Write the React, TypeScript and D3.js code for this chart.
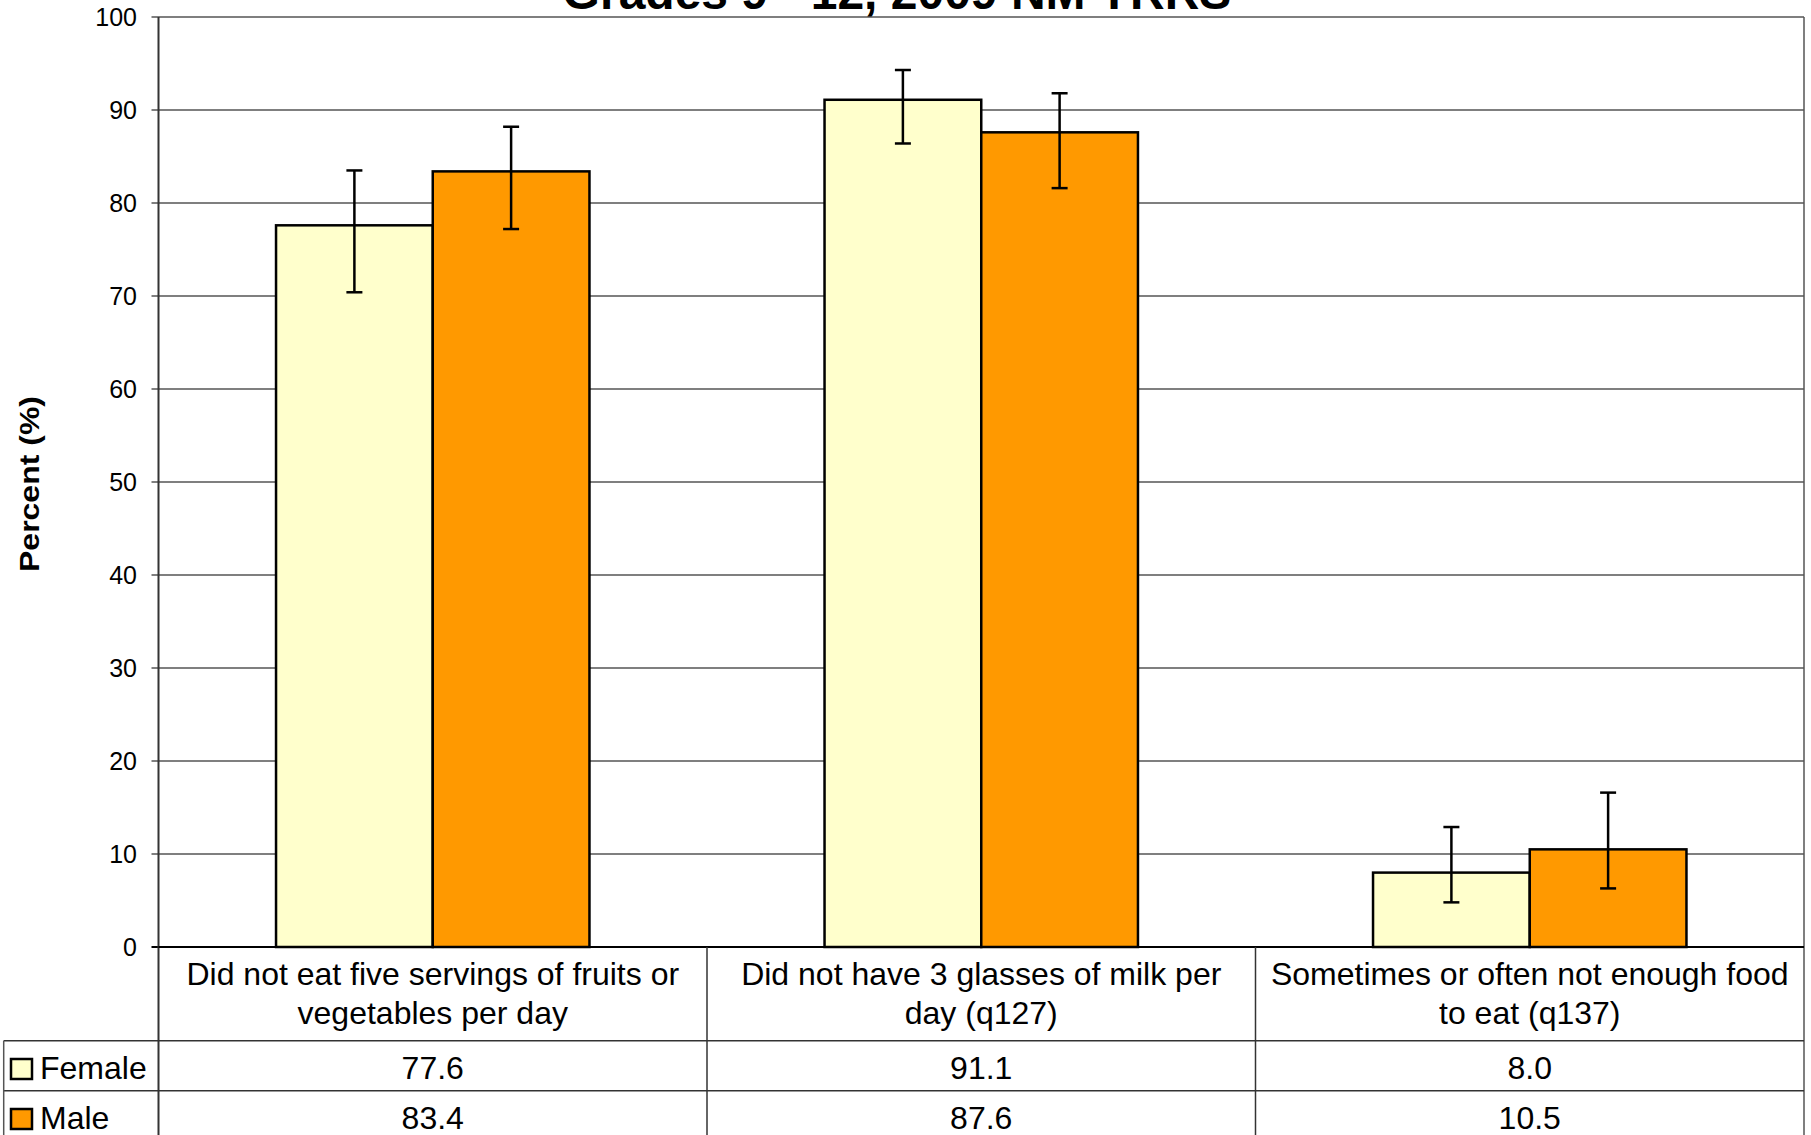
import React from "react";
import * as d3 from "d3";

const categories = [
  ["Did not eat five servings of fruits or", "vegetables per day"],
  ["Did not have 3 glasses of milk per", "day (q127)"],
  ["Sometimes or often not enough food", "to eat (q137)"],
];
const seriesNames = ["Female", "Male"];
const female = [77.6, 91.1, 8.0];
const male = [83.4, 87.6, 10.5];
const femaleLow = [70.4, 86.4, 4.8];
const femaleHigh = [83.5, 94.3, 12.9];
const maleLow = [77.2, 81.6, 6.3];
const maleHigh = [88.2, 91.8, 16.6];
const yTicks = [0, 10, 20, 30, 40, 50, 60, 70, 80, 90, 100];
const colors = ["#FFFFCC", "#FF9900"];
const title = "Grades 9 - 12, 2009 NM YRRS";

const W = 1811;
const H = 1135;
const FONT = "'Liberation Sans', Arial, sans-serif";

export default function App() {
  const left = 158.5;
  const right = 1804;
  const top = 17;
  const bottom = 947;
  const x = d3
    .scaleBand<number>()
    .domain(d3.range(categories.length))
    .range([left, right])
    .padding(0);
  const y = d3.scaleLinear().domain([0, 100]).range([bottom, top]);
  const bw = x.bandwidth() / 3.5;
  const values = [female, male];
  const lows = [femaleLow, maleLow];
  const highs = [femaleHigh, maleHigh];

  const row1 = 1040.7;
  const row2 = 1090.7;
  const tableLeft = 3.7;

  return (
    <svg
      width={W}
      height={H}
      style={{ position: "absolute", left: 0, top: 0, background: "#fff" }}
      fontFamily={FONT}
    >
      <rect x={0} y={0} width={W} height={H} fill="#fff" />
      {/* title */}
      <text x={897} y={9} textAnchor="middle" fontSize={48} fontWeight="bold" fill="#000">
        {title}
      </text>
      {/* gridlines */}
      {yTicks.map((t) => (
        <g key={t}>
          <line x1={left - 7} x2={right} y1={y(t)} y2={y(t)} stroke="#000" strokeWidth={t === 0 ? 2 : 1.2} />
          <text x={137} y={y(t) + 9} textAnchor="end" fontSize={25} fill="#000">
            {t}
          </text>
        </g>
      ))}
      {/* bars */}
      {categories.map((c, i) => {
        const x0 = (x(i) as number) + bw * 0.75;
        return (
          <g key={i}>
            {values.map((v, s) => (
              <rect
                key={s}
                x={x0 + s * bw}
                y={y(v[i])}
                width={bw}
                height={y(0) - y(v[i])}
                fill={colors[s]}
                stroke="#000"
                strokeWidth={2.5}
              />
            ))}
            {values.map((v, s) => {
              const cx = x0 + s * bw + bw / 2;
              return (
                <g key={"e" + s} stroke="#000" strokeWidth={2.5}>
                  <line x1={cx} x2={cx} y1={y(highs[s][i])} y2={y(lows[s][i])} />
                  <line x1={cx - 8} x2={cx + 8} y1={y(highs[s][i])} y2={y(highs[s][i])} />
                  <line x1={cx - 8} x2={cx + 8} y1={y(lows[s][i])} y2={y(lows[s][i])} />
                </g>
              );
            })}
          </g>
        );
      })}
      {/* axes */}
      <line x1={left} x2={left} y1={top} y2={H} stroke="#333" strokeWidth={2} />
      <line x1={right} x2={right} y1={top} y2={H} stroke="#555" strokeWidth={1.5} />
      <line x1={left} x2={right} y1={bottom} y2={bottom} stroke="#000" strokeWidth={2} />
      {/* table */}
      <line x1={tableLeft} x2={right} y1={row1} y2={row1} stroke="#333" strokeWidth={1.5} />
      <line x1={tableLeft} x2={right} y1={row2} y2={row2} stroke="#333" strokeWidth={1.5} />
      <line x1={tableLeft} x2={tableLeft} y1={row1} y2={H} stroke="#555" strokeWidth={1.5} />
      {categories.map((c, i) => {
        const cx = (x(i) as number) + x.bandwidth() / 2;
        return (
          <g key={"t" + i}>
            {i > 0 && (
              <line x1={x(i) as number} x2={x(i) as number} y1={bottom} y2={H} stroke="#333" strokeWidth={1.5} />
            )}
            <text x={cx} y={985} textAnchor="middle" fontSize={32} fill="#000">
              {c[0]}
            </text>
            <text x={cx} y={1024} textAnchor="middle" fontSize={32} fill="#000">
              {c[1]}
            </text>
            <text x={cx} y={1079} textAnchor="middle" fontSize={32} fill="#000">
              {female[i].toFixed(1)}
            </text>
            <text x={cx} y={1129} textAnchor="middle" fontSize={32} fill="#000">
              {male[i].toFixed(1)}
            </text>
          </g>
        );
      })}
      {/* legend keys */}
      {seriesNames.map((n, s) => {
        const by = s === 0 ? 1079 : 1129;
        return (
          <g key={n}>
            <rect x={11} y={by - 20} width={21} height={20} fill={colors[s]} stroke="#000" strokeWidth={2.5} />
            <text x={40} y={by} fontSize={32} fill="#000">
              {n}
            </text>
          </g>
        );
      })}
      {/* y-axis title */}
      <text
        transform={`translate(39,484) rotate(-90)`}
        textAnchor="middle"
        fontSize={28}
        fontWeight="bold"
        fill="#000"
        textLength={176}
        lengthAdjust="spacingAndGlyphs"
      >
        Percent (%)
      </text>
    </svg>
  );
}
